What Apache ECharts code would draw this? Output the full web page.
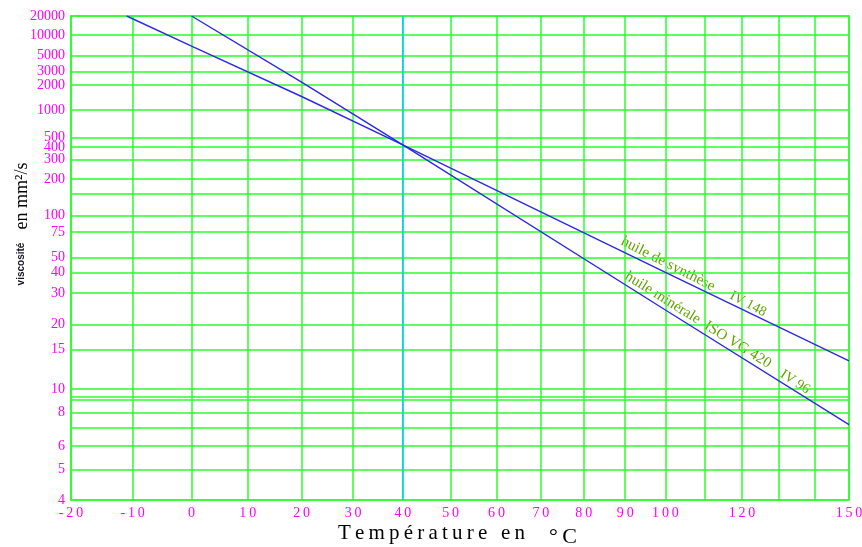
<!DOCTYPE html>
<html>
<head>
<meta charset="utf-8">
<title>Viscosité en fonction de la température</title>
<script src="https://cdn.jsdelivr.net/npm/echarts@6/dist/echarts.min.js"></script>
<style>
  html, body { margin: 0; padding: 0; background: #fff; }
  #chart { width: 862px; height: 547px; }
</style>
</head>
<body>
<div id="chart"></div>
<script>
// temperature (°C): grid lines and labelled ticks
var tempGrid = [-20, -10, 0, 10, 20, 30, 40, 50, 60, 70, 80, 90, 100, 110, 120, 130, 140, 150]
var tempLabels = [-20, -10, 0, 10, 20, 30, 40, 50, 60, 70, 80, 90, 100, 120, 150]
var refTemp = 40

// viscosity (mm²/s): grid lines and labelled ticks
var viscGrid = [20000, 10000, 5000, 3000, 2000, 1000, 500, 400, 300, 200, 150, 100, 75, 50, 40, 30, 20, 15, 10, 9, 8, 7, 6, 5, 4]
var viscLabels = [20000, 10000, 5000, 3000, 2000, 1000, 500, 400, 300, 200, 100, 75, 50, 40, 30, 20, 15, 10, 8, 6, 5, 4]
var viscMin = 4
var viscMax = 20000

// huile de synthèse IV 148
var synthTemp = [-11, 0, 20, 40, 100, 150]
var synthVisc = [20000, 6800, 1440, 420, 40, 13.3]

// huile minérale ISO VG 420 IV 96
var mineralTemp = [0, 20, 40, 100, 150]
var mineralVisc = [20000, 2170, 420, 24, 7.2]

// chart scales: viscosity on a Walther scale, temperature on a log scale
function tx(t) { return Math.log10(t + 220) }
function txInv(v) { return Math.pow(10, v) - 220 }
function vy(n) { return Math.log10(Math.log10(n + 0.7)) }
function vyInv(v) { return Math.pow(10, Math.pow(10, v)) - 0.7 }

function toPoints(temps, viscs) {
  return temps.map(function (t, i) { return [tx(t), vy(viscs[i])] })
}

// spread the letters a little, like the original title
function spaced(s) { return s.split('').join('\u2009') }

var green = '#2bff2b'
var magenta = '#ff00ff'
var blue = '#2a2ae8'
var olive = '#5fa300'

var chart = echarts.init(document.getElementById('chart'))
chart.setOption({
  animation: false,
  backgroundColor: '#fff',
  grid: {
    left: 71,
    right: 13,
    top: 16,
    bottom: 47,
    outerBoundsMode: 'none',
    show: true,
    borderColor: green,
    borderWidth: 1.5
  },
  xAxis: {
    type: 'value',
    min: tx(-20),
    max: tx(150),
    axisLine: { lineStyle: { color: green, width: 1.5 } },
    axisTick: { show: false, customValues: tempGrid.map(tx) },
    axisLabel: {
      customValues: tempLabels.map(tx),
      formatter: function (v) { return spaced(String(Math.round(txInv(v)))) },
      color: magenta,
      fontFamily: 'Liberation Serif',
      fontSize: 14,
      margin: 6
    },
    splitLine: { show: true, lineStyle: { color: green, width: 1.5 } }
  },
  yAxis: {
    type: 'value',
    min: vy(viscMin),
    max: vy(viscMax),
    axisLine: { show: true, lineStyle: { color: green, width: 1.5 } },
    axisTick: { show: false, customValues: viscGrid.map(vy) },
    axisLabel: {
      customValues: viscLabels.map(vy),
      formatter: function (v) { return String(Math.round(vyInv(v))) },
      color: magenta,
      fontFamily: 'Liberation Serif',
      fontSize: 14,
      margin: 6
    },
    splitLine: { show: true, lineStyle: { color: green, width: 1.5 } }
  },
  series: [
    {
      name: '40 °C',
      type: 'line',
      data: toPoints([refTemp, refTemp], [viscMin, viscMax]),
      showSymbol: false,
      silent: true,
      lineStyle: { color: '#00ccff', width: 1.5 },
      z: 2
    },
    {
      name: 'huile de synthèse IV 148',
      type: 'line',
      data: toPoints(synthTemp, synthVisc),
      showSymbol: false,
      lineStyle: { color: blue, width: 1.4 },
      z: 3
    },
    {
      name: 'huile minérale ISO VG 420 IV 96',
      type: 'line',
      data: toPoints(mineralTemp, mineralVisc),
      showSymbol: false,
      lineStyle: { color: blue, width: 1.4 },
      z: 3
    }
  ],
  graphic: [
    {
      type: 'text',
      x: 21,
      y: 264,
      rotation: Math.PI / 2,
      style: {
        text: 'viscosité',
        fontFamily: 'Liberation Sans',
        fontWeight: 'bold',
        fontSize: 10,
        fill: '#141428',
        align: 'center',
        verticalAlign: 'middle'
      }
    },
    {
      type: 'text',
      x: 22,
      y: 196,
      rotation: Math.PI / 2,
      style: {
        text: 'en mm²/s',
        fontFamily: 'Liberation Serif',
        fontSize: 18,
        fill: '#000',
        align: 'center',
        verticalAlign: 'middle'
      }
    },
    {
      type: 'text',
      x: 338,
      y: 533,
      style: {
        text: spaced('Température en'),
        fontFamily: 'Liberation Serif',
        fontSize: 21,
        fill: '#000',
        align: 'left',
        verticalAlign: 'middle'
      }
    },
    {
      type: 'text',
      x: 549,
      y: 537,
      style: {
        text: spaced('°C'),
        fontFamily: 'Liberation Serif',
        fontSize: 22,
        fill: '#000',
        align: 'left',
        verticalAlign: 'middle'
      }
    },
    {
      type: 'text',
      x: 668,
      y: 264,
      rotation: -27 * Math.PI / 180,
      style: {
        text: 'huile de synthèse',
        fontFamily: 'Liberation Serif',
        fontSize: 15,
        fill: olive,
        align: 'center',
        verticalAlign: 'middle'
      }
    },
    {
      type: 'text',
      x: 748,
      y: 304,
      rotation: -28 * Math.PI / 180,
      style: {
        text: 'IV 148',
        fontFamily: 'Liberation Serif',
        fontSize: 14,
        fill: olive,
        align: 'center',
        verticalAlign: 'middle'
      }
    },
    {
      type: 'text',
      x: 698,
      y: 320,
      rotation: -32 * Math.PI / 180,
      style: {
        text: 'huile minérale  ISO VG 420',
        fontFamily: 'Liberation Serif',
        fontSize: 15,
        fill: olive,
        align: 'center',
        verticalAlign: 'middle'
      }
    },
    {
      type: 'text',
      x: 795,
      y: 382,
      rotation: -33 * Math.PI / 180,
      style: {
        text: 'IV 96',
        fontFamily: 'Liberation Serif',
        fontSize: 14,
        fill: olive,
        align: 'center',
        verticalAlign: 'middle'
      }
    }
  ]
})
</script>
</body>
</html>
